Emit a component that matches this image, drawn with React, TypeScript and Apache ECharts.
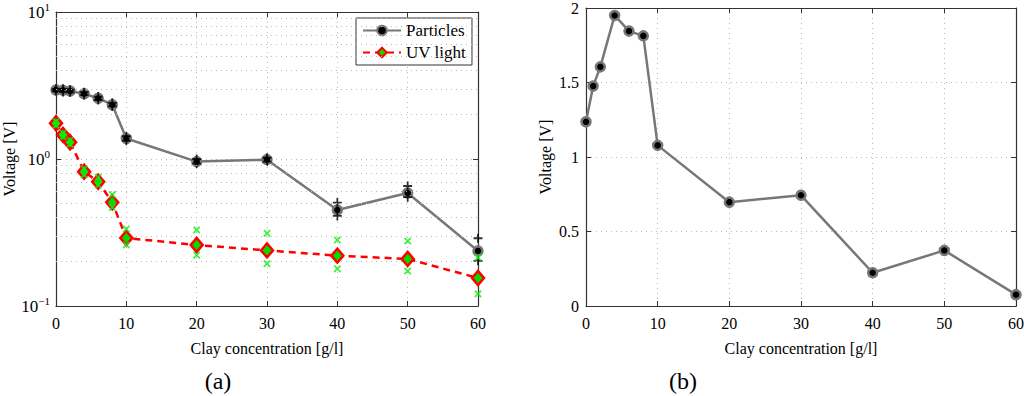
import React, { useEffect, useRef } from "react";
import * as echarts from "echarts";

const clay = [0, 1, 2, 4, 6, 8, 10, 20, 30, 40, 50, 60];
const particles = [2.95, 2.93, 2.9, 2.78, 2.59, 2.34, 1.38, 0.96, 0.99, 0.45, 0.587, 0.237];
const particlesHigh = [3.0, 3.0, 2.96, 2.85, 2.66, 2.41, 1.43, 1.0, 1.02, 0.505, 0.655, 0.289];
const particlesLow = [2.9, 2.86, 2.84, 2.72, 2.52, 2.28, 1.33, 0.93, 0.96, 0.41, 0.55, 0.203];
const uvLight = [1.75, 1.46, 1.3, 0.82, 0.7, 0.507, 0.29, 0.26, 0.239, 0.22, 0.209, 0.155];
const uvHigh = [1.8, 1.5, 1.34, 0.86, 0.75, 0.572, 0.334, 0.329, 0.312, 0.281, 0.277, 0.214];
const uvLow = [1.7, 1.42, 1.26, 0.78, 0.665, 0.469, 0.26, 0.222, 0.194, 0.179, 0.173, 0.121];
const voltageDiff = [1.236, 1.476, 1.605, 1.95, 1.845, 1.813, 1.078, 0.697, 0.743, 0.223, 0.373, 0.076];
const logMinorTicks = [0.2, 0.3, 0.4, 0.5, 0.6, 0.7, 0.8, 0.9, 2, 3, 4, 5, 6, 7, 8, 9];
const supLabels: Record<string, string> = { "0.1": "−1", "1": "0", "10": "1" };

const FONT = "Liberation Serif";
const FS = 16;
const PLUS = "path://M4,0H6V4H10V6H6V10H4V6H0V4H4Z";

export default function App() {
  const ref = useRef<HTMLDivElement>(null);
  useEffect(() => {
    if (!ref.current) return;
    const chart = echarts.init(ref.current, null, { renderer: "svg" });
    const pair = (ys: number[]) => clay.map((x, i) => [x, ys[i]]);
    const axisLine = { show: true, onZero: false, lineStyle: { color: "#333", width: 1.2 } };
    const tick = { show: true, inside: true, length: 5, lineStyle: { color: "#333" } };
    const grid = { show: true, lineStyle: { color: "#bbb", type: [1, 4] as any, width: 1 } };
    const lbl = { color: "#000", fontFamily: FONT, fontSize: FS };
    const nameStyle = { color: "#000", fontFamily: FONT, fontSize: FS };
    const xBase = (gi: number) => ({
      type: "value", gridIndex: gi, min: 0, max: 60, interval: 10,
      axisLine, axisTick: tick, splitLine: grid,
      axisLabel: { ...lbl, margin: 9 },
      name: "Clay concentration [g/l]", nameLocation: "middle", nameGap: 34,
      nameTextStyle: nameStyle,
    });
    const xTop = (gi: number) => ({
      type: "value", gridIndex: gi, min: 0, max: 60, interval: 10, position: "top",
      axisLine, axisTick: tick, splitLine: { show: false }, axisLabel: { show: false },
    });
    chart.setOption({
      animation: false,
      backgroundColor: "#fff",
      textStyle: { fontFamily: FONT },
      grid: [
        { left: 56, top: 12, width: 422, height: 294, show: false, containLabel: false, outerBoundsMode: "none" },
        { left: 586, top: 8, width: 430, height: 298, show: false, containLabel: false, outerBoundsMode: "none" },
      ],
      legend: {
        left: 356, top: 18, orient: "vertical",
        data: ["Particles", "UV light"],
        itemWidth: 38, itemHeight: 12, itemGap: 5,
        borderColor: "#333", borderWidth: 1, padding: [4, 6, 4, 6],
        backgroundColor: "#fff",
        textStyle: { fontFamily: FONT, fontSize: 17, color: "#000" },
      },
      xAxis: [xBase(0), xTop(0), xBase(1), xTop(1)],
      yAxis: [
        {
          type: "log", logBase: 10, gridIndex: 0, min: 0.1, max: 10,
          axisLine, axisTick: tick, splitLine: grid,
          axisLabel: {
            ...lbl, margin: 6,
            formatter: (v: number) => `{b|10}{s|${supLabels[String(v)] ?? ""}}`,
            rich: {
              b: { fontFamily: FONT, fontSize: 17, color: "#000" },
              s: { fontFamily: FONT, fontSize: 11, color: "#000", padding: [0, 0, 10, 0] },
            },
          },
          name: "Voltage [V]", nameLocation: "middle", nameGap: 38, nameTextStyle: nameStyle,
        },
        {
          type: "log", logBase: 10, gridIndex: 0, min: 0.1, max: 10, position: "right",
          axisLine, axisTick: tick, splitLine: { show: false }, axisLabel: { show: false },
        },
        {
          type: "value", gridIndex: 1, min: 0, max: 2, interval: 0.5,
          axisLine, axisTick: tick, splitLine: grid,
          axisLabel: { ...lbl, margin: 7 },
          name: "Voltage [V]", nameLocation: "middle", nameGap: 33, nameTextStyle: nameStyle,
        },
        {
          type: "value", gridIndex: 1, min: 0, max: 2, interval: 0.5, position: "right",
          axisLine, axisTick: tick, splitLine: { show: false }, axisLabel: { show: false },
        },
      ],
      series: [
        {
          type: "line", name: "minor", xAxisIndex: 0, yAxisIndex: 0, data: [],
          silent: true,
          markLine: {
            silent: true, symbol: "none", label: { show: false },
            lineStyle: { color: "#bbb", type: [1, 4], width: 1 },
            data: logMinorTicks.map((v) => ({ yAxis: v })),
          },
        },
        {
          type: "line", name: "Particles", xAxisIndex: 0, yAxisIndex: 0,
          data: pair(particles), symbol: "circle", symbolSize: 9,
          lineStyle: { color: "#777", width: 2.5 },
          itemStyle: { color: "#000", borderColor: "#777", borderWidth: 2.5 },
          z: 3,
        },
        {
          type: "scatter", name: "pErrHi", xAxisIndex: 0, yAxisIndex: 0,
          data: pair(particlesHigh), symbol: PLUS, symbolSize: 9,
          itemStyle: { color: "#000" }, z: 4,
        },
        {
          type: "scatter", name: "pErrLo", xAxisIndex: 0, yAxisIndex: 0,
          data: pair(particlesLow), symbol: PLUS, symbolSize: 9,
          itemStyle: { color: "#000" }, z: 4,
        },
        {
          type: "line", name: "UV light", xAxisIndex: 0, yAxisIndex: 0,
          data: pair(uvLight), symbol: "diamond", symbolSize: [12, 14],
          lineStyle: { color: "#f00", width: 2.5, type: [7, 5] },
          itemStyle: { color: "#0d0", borderColor: "#f00", borderWidth: 2.5 },
          z: 5,
        },
        {
          type: "scatter", name: "uvErrHi", xAxisIndex: 0, yAxisIndex: 0,
          data: pair(uvHigh), symbol: PLUS, symbolRotate: 45, symbolSize: 9,
          itemStyle: { color: "#1e1" }, z: 6,
        },
        {
          type: "scatter", name: "uvErrLo", xAxisIndex: 0, yAxisIndex: 0,
          data: pair(uvLow), symbol: PLUS, symbolRotate: 45, symbolSize: 9,
          itemStyle: { color: "#1e1" }, z: 6,
        },
        {
          type: "line", name: "Difference", xAxisIndex: 2, yAxisIndex: 2,
          data: pair(voltageDiff), symbol: "circle", symbolSize: 9,
          lineStyle: { color: "#777", width: 2.5 },
          itemStyle: { color: "#000", borderColor: "#777", borderWidth: 2.5 },
        },
      ],
      graphic: [
        { type: "text", x: 218, y: 381, style: { text: "(a)", fontFamily: FONT, fontSize: 24, fill: "#000", align: "center", verticalAlign: "middle" } },
        { type: "text", x: 683, y: 381, style: { text: "(b)", fontFamily: FONT, fontSize: 24, fill: "#000", align: "center", verticalAlign: "middle" } },
      ],
    });
    return () => chart.dispose();
  }, []);
  return (
    <div
      ref={ref}
      style={{ position: "fixed", left: 0, top: 0, width: 1024, height: 396, background: "#fff" }}
    />
  );
}
